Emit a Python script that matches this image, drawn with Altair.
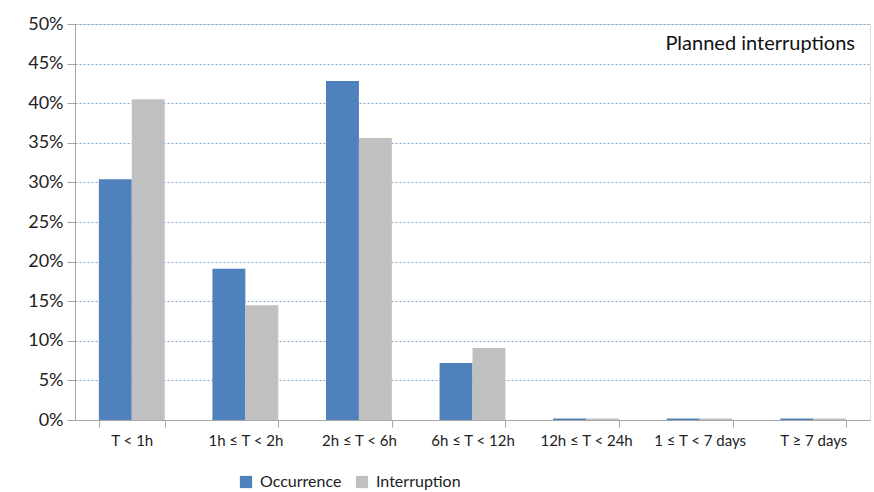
import altair as alt
import pandas as pd

categories = ["T < 1h", "1h ≤ T < 2h", "2h ≤ T < 6h", "6h ≤ T < 12h",
              "12h ≤ T < 24h", "1 ≤ T < 7 days", "T ≥ 7 days"]
occurrence = [30.4, 19.1, 42.8, 7.2, 0.2, 0.2, 0.2]
interruption = [40.5, 14.5, 35.6, 9.1, 0.2, 0.2, 0.2]
series = ["Occurrence", "Interruption"]
colors = ["#4f81bd", "#c0c0c0"]
y_ticks = [0, 0.05, 0.10, 0.15, 0.20, 0.25, 0.30, 0.35, 0.40, 0.45, 0.50]

rows = []
for c, o, i in zip(categories, occurrence, interruption):
    rows.append({"cat": c, "series": series[0], "value": o / 100})
    rows.append({"cat": c, "series": series[1], "value": i / 100})
df = pd.DataFrame(rows)

FONT = "Lato"

bars = alt.Chart(df).mark_bar().encode(
    x=alt.X("cat:N", sort=categories, title=None,
            scale=alt.Scale(paddingInner=0.42, paddingOuter=0.21),
            axis=alt.Axis(labelAngle=0, tickBand="extent", labelFontSize=15,
                          labelFont=FONT, labelColor="#222222", labelPadding=6,
                          domainColor="#a6a6a6", tickColor="#a6a6a6", tickSize=7,
                          grid=False)),
    xOffset=alt.XOffset("series:N", sort=series),
    y=alt.Y("value:Q", title=None,
            scale=alt.Scale(domain=[0, 0.5], nice=False),
            axis=alt.Axis(values=y_ticks, format=".0%", labelFontSize=18,
                          labelFont=FONT, labelColor="#222222", labelPadding=4,
                          domainColor="#a6a6a6", tickColor="#a6a6a6", tickSize=8,
                          grid=True, gridColor="#7fa6d6", gridDash=[2, 2],
                          gridWidth=1.2)),
    color=alt.Color("series:N", sort=series,
                    scale=alt.Scale(domain=series, range=colors),
                    legend=alt.Legend(title=None, orient="none", direction="horizontal",
                                      legendX=163, legendY=450, symbolType="square",
                                      symbolSize=150, symbolStrokeWidth=0,
                                      labelFontSize=16, labelFont=FONT,
                                      labelColor="#222222", columnPadding=12,
                                      labelOffset=6)),
)

title_df = pd.DataFrame({"t": ["Planned interruptions"]})
title = alt.Chart(title_df).mark_text(
    align="right", baseline="middle", fontSize=20, font=FONT, color="#111111"
).encode(text="t:N", x=alt.value(780), y=alt.value(20))

chart = alt.layer(bars, title).properties(
    width=795, height=396,
    autosize=alt.AutoSizeParams(type="none"),
    padding={"left": 75, "top": 24, "right": 4, "bottom": 72},
).configure_view(stroke=None).configure(background="white")

chart.save("out.html", embed_options={"renderer": "svg", "actions": False})
